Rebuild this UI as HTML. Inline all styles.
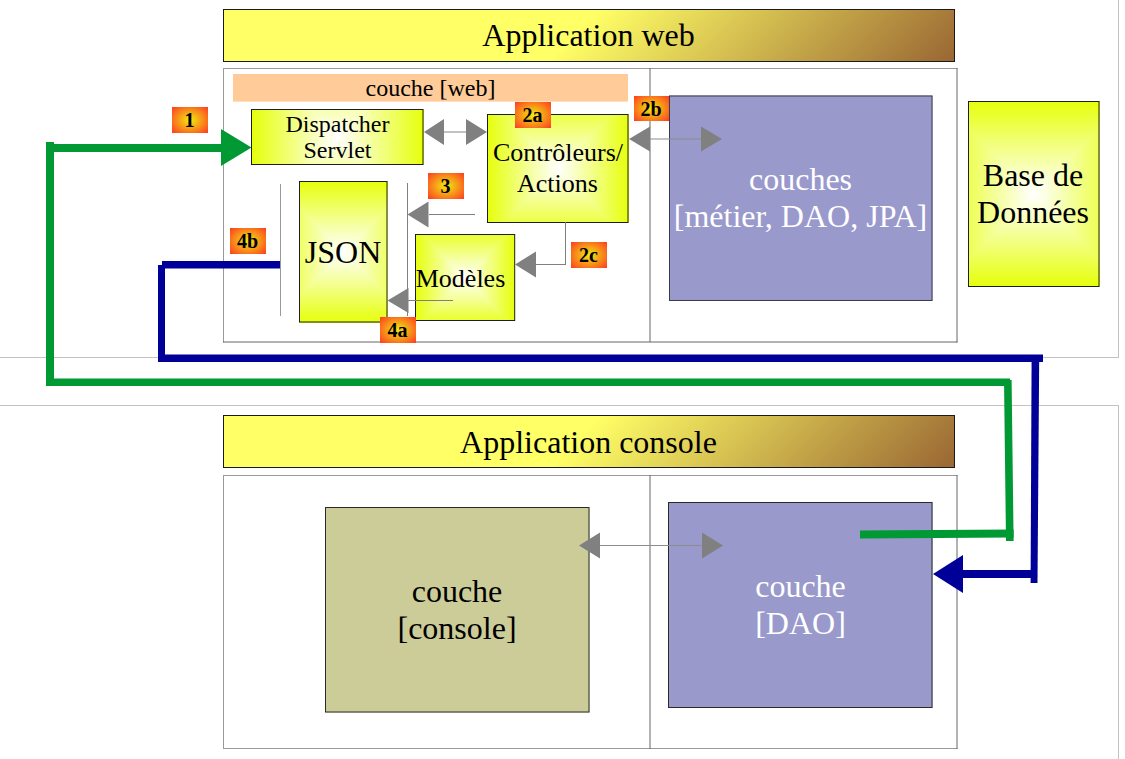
<!DOCTYPE html>
<html><head><meta charset="utf-8"><style>
html,body{margin:0;padding:0;background:#fff;width:1125px;height:759px;overflow:hidden;}
svg{display:block;}
text{font-family:"Liberation Serif", serif;}
svg{position:absolute;left:0;top:0;}
</style></head><body>
<div style="position:absolute;left:251px;top:109px;width:172.5px;height:56px;background-image:linear-gradient(to right,#e6ff0a,#ffffff 50%,#e6ff0a),linear-gradient(to bottom,#f7ffaf,#ffffff 50%,#f7ffaf);background-blend-mode:darken;"></div>
<div style="position:absolute;left:487px;top:114px;width:141.5px;height:109px;background-image:linear-gradient(to right,#e6ff0a,#ffffff 50%,#e6ff0a),linear-gradient(to bottom,#ecff42,#ffffff 50%,#ecff42);background-blend-mode:darken;"></div>
<div style="position:absolute;left:299px;top:181px;width:88.5px;height:141.5px;background-image:linear-gradient(to right,#efff66,#ffffff 50%,#efff66),linear-gradient(to bottom,#e6ff0a,#ffffff 50%,#e6ff0a);background-blend-mode:darken;"></div>
<div style="position:absolute;left:415px;top:234px;width:100.2px;height:87px;background-image:linear-gradient(to right,#e6ff0a,#ffffff 50%,#e6ff0a),linear-gradient(to bottom,#e9ff2a,#ffffff 50%,#e9ff2a);background-blend-mode:darken;"></div>
<div style="position:absolute;left:968px;top:101px;width:131.5px;height:186px;background-image:linear-gradient(to right,#edff52,#ffffff 50%,#edff52),linear-gradient(to bottom,#e6ff0a,#ffffff 50%,#e6ff0a);background-blend-mode:darken;"></div>
<svg width="1125" height="759" viewBox="0 0 1125 759">
<defs>
<linearGradient id="hg1" gradientUnits="userSpaceOnUse" x1="573.3" y1="35.5" x2="777.4" y2="239.6"><stop offset="0" stop-color="#ffff66"/><stop offset="1" stop-color="#996633"/></linearGradient>
<radialGradient id="bg2" gradientUnits="userSpaceOnUse" cx="190" cy="120" r="25.92" gradientTransform="translate(190 120) scale(1 0.76) translate(-190 -120)"><stop offset="0" stop-color="#f0ec10"/><stop offset="1" stop-color="#ff3322"/></radialGradient>
<radialGradient id="bg3" gradientUnits="userSpaceOnUse" cx="533" cy="115" r="25.92" gradientTransform="translate(533 115) scale(1 0.76) translate(-533 -115)"><stop offset="0" stop-color="#f0ec10"/><stop offset="1" stop-color="#ff3322"/></radialGradient>
<radialGradient id="bg4" gradientUnits="userSpaceOnUse" cx="651.5" cy="108.5" r="25.2" gradientTransform="translate(651.5 108.5) scale(1 0.75) translate(-651.5 -108.5)"><stop offset="0" stop-color="#f0ec10"/><stop offset="1" stop-color="#ff3322"/></radialGradient>
<radialGradient id="bg5" gradientUnits="userSpaceOnUse" cx="446" cy="186" r="25.92" gradientTransform="translate(446 186) scale(1 0.76) translate(-446 -186)"><stop offset="0" stop-color="#f0ec10"/><stop offset="1" stop-color="#ff3322"/></radialGradient>
<radialGradient id="bg6" gradientUnits="userSpaceOnUse" cx="589" cy="255" r="25.92" gradientTransform="translate(589 255) scale(1 0.76) translate(-589 -255)"><stop offset="0" stop-color="#f0ec10"/><stop offset="1" stop-color="#ff3322"/></radialGradient>
<radialGradient id="bg7" gradientUnits="userSpaceOnUse" cx="248" cy="241" r="25.92" gradientTransform="translate(248 241) scale(1 0.76) translate(-248 -241)"><stop offset="0" stop-color="#f0ec10"/><stop offset="1" stop-color="#ff3322"/></radialGradient>
<radialGradient id="bg8" gradientUnits="userSpaceOnUse" cx="398" cy="330" r="25.92" gradientTransform="translate(398 330) scale(1 0.76) translate(-398 -330)"><stop offset="0" stop-color="#f0ec10"/><stop offset="1" stop-color="#ff3322"/></radialGradient>
<linearGradient id="hg9" gradientUnits="userSpaceOnUse" x1="573.3" y1="441.5" x2="777.4" y2="645.6"><stop offset="0" stop-color="#ffff66"/><stop offset="1" stop-color="#996633"/></linearGradient>
</defs>
<line x1="0" y1="357.5" x2="1119" y2="357.5" stroke="#c3c3c3" stroke-width="1"/>
<line x1="1118.5" y1="0" x2="1118.5" y2="358" stroke="#c3c3c3" stroke-width="1"/>
<line x1="0" y1="405.5" x2="1119" y2="405.5" stroke="#c3c3c3" stroke-width="1"/>
<line x1="1118.5" y1="405" x2="1118.5" y2="759" stroke="#c3c3c3" stroke-width="1"/>
<rect x="223" y="9" width="732" height="53" fill="url(#hg1)"/><rect x="223.5" y="9.5" width="731" height="52" fill="none" stroke="#1a1a1a" stroke-width="1"/><text x="588.5" y="45.9" font-size="32" fill="#000" font-weight="normal" text-anchor="middle">Application web</text>
<line x1="223" y1="68.5" x2="957.5" y2="68.5" stroke="#9a9a9a" stroke-width="1"/>
<line x1="223.5" y1="68" x2="223.5" y2="342.5" stroke="#9a9a9a" stroke-width="1"/>
<line x1="223" y1="342" x2="957.5" y2="342" stroke="#666" stroke-width="1"/>
<line x1="957" y1="68" x2="957" y2="342.5" stroke="#666" stroke-width="1"/>
<line x1="650" y1="68" x2="650" y2="342" stroke="#666" stroke-width="1"/>
<rect x="233" y="74" width="395" height="27.6" fill="#ffcc99"/>
<text x="430.5" y="96" font-size="24" fill="#000" font-weight="normal" text-anchor="middle">couche [web]</text>
<rect x="251.5" y="109.5" width="171.5" height="55" fill="none" stroke="#1e1e1e" stroke-width="1"/>
<text x="337.5" y="131.8" font-size="24" fill="#000" font-weight="normal" text-anchor="middle">Dispatcher</text>
<text x="337.5" y="158.4" font-size="24" fill="#000" font-weight="normal" text-anchor="middle">Servlet</text>
<rect x="487.5" y="114.5" width="140.5" height="108" fill="none" stroke="#1e1e1e" stroke-width="1"/>
<text x="558" y="161.3" font-size="26" fill="#000" font-weight="normal" text-anchor="middle">Contrôleurs/</text>
<text x="557.5" y="192.4" font-size="26" fill="#000" font-weight="normal" text-anchor="middle">Actions</text>
<rect x="299.5" y="181.5" width="87.5" height="140.5" fill="none" stroke="#1e1e1e" stroke-width="1"/>
<text x="343" y="262.8" font-size="32" fill="#000" font-weight="normal" text-anchor="middle">JSON</text>
<rect x="415.5" y="234.5" width="99.2" height="86" fill="none" stroke="#1e1e1e" stroke-width="1"/>
<text x="460.5" y="286.5" font-size="26" fill="#000" font-weight="normal" text-anchor="middle">Modèles</text>
<rect x="669" y="95.5" width="263.5" height="205.5" fill="#9999cc"/><rect x="669.5" y="96" width="262.5" height="204.5" fill="none" stroke="#3a3a4a" stroke-width="1"/>
<text x="800.5" y="190.3" font-size="32" fill="#fff" font-weight="normal" text-anchor="middle">couches</text>
<text x="800.5" y="227" font-size="32" fill="#fff" font-weight="normal" text-anchor="middle">[métier, DAO, JPA]</text>
<rect x="968.5" y="101.5" width="130.5" height="185" fill="none" stroke="#1e1e1e" stroke-width="1"/>
<text x="1033" y="186" font-size="32" fill="#000" font-weight="normal" text-anchor="middle">Base de</text>
<text x="1033" y="222.9" font-size="32" fill="#000" font-weight="normal" text-anchor="middle">Données</text>
<line x1="444" y1="132" x2="466" y2="132" stroke="#999999" stroke-width="1.2"/>
<polygon points="424,132 444,119 444,145" fill="#808080"/>
<polygon points="487,132 466,119 466,145" fill="#808080"/>
<line x1="650" y1="139" x2="702" y2="139" stroke="#8c8c8c" stroke-width="1.2"/>
<polygon points="629,139 650,126.5 650,151.5" fill="#808080"/>
<polygon points="722,139 701,126.5 701,151.5" fill="#808080"/>
<line x1="565.5" y1="222" x2="565.5" y2="264.5" stroke="#7f7f7f" stroke-width="1"/>
<line x1="536" y1="264.5" x2="566" y2="264.5" stroke="#7f7f7f" stroke-width="1"/>
<polygon points="515,264.5 536,251.5 536,277.5" fill="#808080"/>
<line x1="280.5" y1="184" x2="280.5" y2="316" stroke="#999999" stroke-width="1"/>
<line x1="407.5" y1="183" x2="407.5" y2="316" stroke="#7f7f7f" stroke-width="1"/>
<line x1="429" y1="214.5" x2="475" y2="214.5" stroke="#7f7f7f" stroke-width="1"/>
<polygon points="407.5,214.5 428.5,201.5 428.5,227.5" fill="#808080"/>
<line x1="408" y1="300.5" x2="453" y2="300.5" stroke="#7f7f7f" stroke-width="1"/>
<polygon points="387.5,300.5 408.5,288 408.5,313" fill="#808080"/>
<rect x="172" y="107" width="36" height="26" fill="url(#bg2)"/><text x="189.5" y="127" font-size="20" fill="#000" font-weight="bold" text-anchor="middle">1</text>
<rect x="515" y="102" width="36" height="26" fill="url(#bg3)"/><text x="532.5" y="121.8" font-size="20" fill="#000" font-weight="bold" text-anchor="middle">2a</text>
<rect x="634" y="96" width="35" height="25" fill="url(#bg4)"/><text x="651" y="115.7" font-size="20" fill="#000" font-weight="bold" text-anchor="middle">2b</text>
<rect x="428" y="173" width="36" height="26" fill="url(#bg5)"/><text x="445.5" y="192.8" font-size="20" fill="#000" font-weight="bold" text-anchor="middle">3</text>
<rect x="571" y="242" width="36" height="26" fill="url(#bg6)"/><text x="588.5" y="261.8" font-size="20" fill="#000" font-weight="bold" text-anchor="middle">2c</text>
<rect x="230" y="228" width="36" height="26" fill="url(#bg7)"/><text x="247.5" y="247.8" font-size="20" fill="#000" font-weight="bold" text-anchor="middle">4b</text>
<rect x="380" y="317" width="36" height="26" fill="url(#bg8)"/><text x="397.5" y="336.8" font-size="20" fill="#000" font-weight="bold" text-anchor="middle">4a</text>
<rect x="223" y="415" width="732" height="53" fill="url(#hg9)"/><rect x="223.5" y="415.5" width="731" height="52" fill="none" stroke="#1a1a1a" stroke-width="1"/><text x="588.5" y="452.9" font-size="32" fill="#000" font-weight="normal" text-anchor="middle">Application console</text>
<line x1="223" y1="475.5" x2="957.5" y2="475.5" stroke="#9a9a9a" stroke-width="1"/>
<line x1="223.5" y1="475" x2="223.5" y2="749" stroke="#9a9a9a" stroke-width="1"/>
<line x1="223" y1="748.5" x2="957.5" y2="748.5" stroke="#9a9a9a" stroke-width="1"/>
<line x1="957" y1="475" x2="957" y2="749" stroke="#666" stroke-width="1"/>
<line x1="650" y1="475" x2="650" y2="749" stroke="#666" stroke-width="1"/>
<rect x="325" y="507" width="264.5" height="205.5" fill="#cccc99"/><rect x="325.5" y="507.5" width="263.5" height="204.5" fill="none" stroke="#2a2a2a" stroke-width="1"/>
<text x="457" y="601.7" font-size="32" fill="#000" font-weight="normal" text-anchor="middle">couche</text>
<text x="457" y="638.7" font-size="32" fill="#000" font-weight="normal" text-anchor="middle">[console]</text>
<rect x="668" y="502" width="264.5" height="206" fill="#9999cc"/><rect x="668.5" y="502.5" width="263.5" height="205" fill="none" stroke="#2a2a2a" stroke-width="1"/>
<text x="800.5" y="596.8" font-size="32" fill="#fff" font-weight="normal" text-anchor="middle">couche</text>
<text x="800.5" y="634.1" font-size="32" fill="#fff" font-weight="normal" text-anchor="middle">[DAO]</text>
<line x1="600" y1="545.5" x2="702" y2="545.5" stroke="#8c8c8c" stroke-width="1.2"/>
<polygon points="579,545.5 600,532.5 600,558.5" fill="#808080"/>
<polygon points="723,545.5 702,532.5 702,558.5" fill="#808080"/>
<polygon points="46,142 54,142 54,386 46,386" fill="#009933"/>
<polygon points="54,144 222,144 222,152 54,152" fill="#009933"/>
<polygon points="221,129 251.5,147.5 221,166" fill="#009933"/>
<polygon points="46,378.5 1010,378.5 1010,386 46,386" fill="#009933"/>
<polygon points="1004,380 1011.6,380 1013.6,541 1006,541" fill="#009933"/>
<polygon points="860,530.5 1013.6,529.5 1013.6,537.5 860,538.5" fill="#009933"/>
<polygon points="162,261 280,261 280,268.5 162,268.5" fill="#000099"/>
<polygon points="158,265 165,265 165,362 158,362" fill="#000099"/>
<polygon points="161,354.5 1043,354.5 1043,362 161,362" fill="#000099"/>
<polygon points="1031.6,358 1039.2,358 1037.5,583 1030.6,583" fill="#000099"/>
<polygon points="962,570 1037,570 1037,578 962,578" fill="#000099"/>
<polygon points="933,574 963,555 963,593" fill="#000099"/>
</svg>
</body></html>
